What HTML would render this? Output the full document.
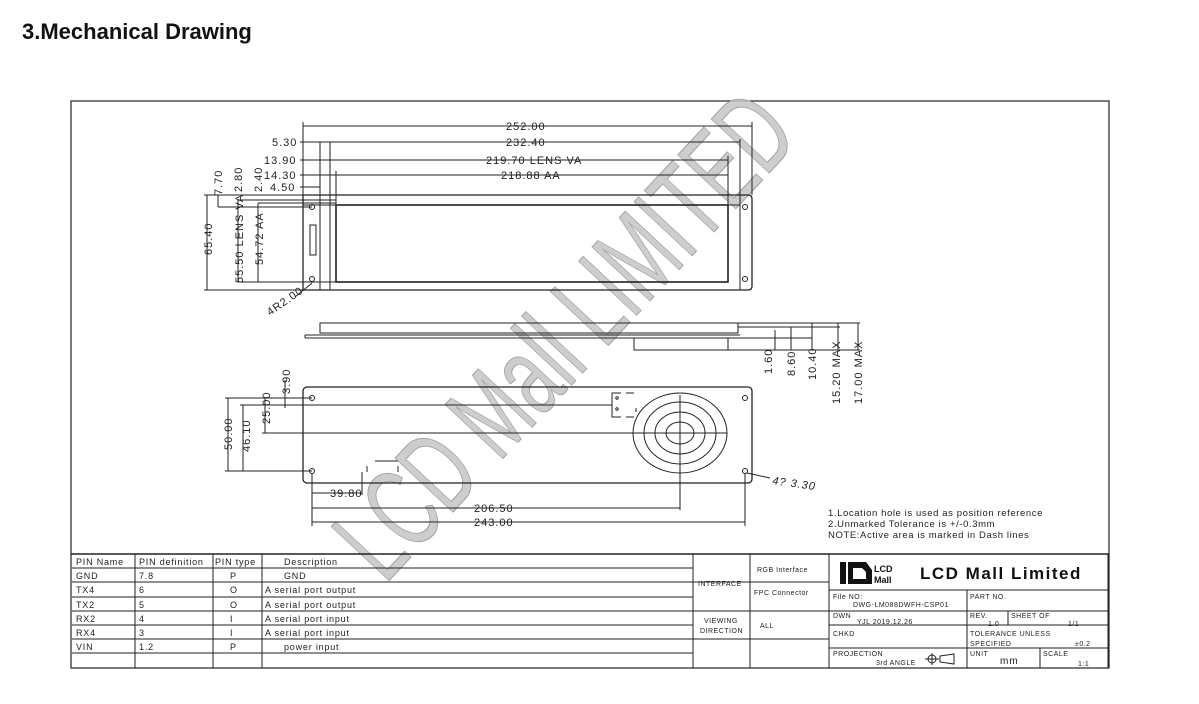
<!DOCTYPE html>
<html><head><meta charset="utf-8"><style>
html,body{margin:0;padding:0;background:#fff;}
svg{display:block;}
text{font-family:"Liberation Sans",sans-serif;}
</style></head><body>
<svg width="1199" height="704" viewBox="0 0 1199 704" xmlns="http://www.w3.org/2000/svg">
<rect width="1199" height="704" fill="#fff"/>
<text x="22" y="39" font-size="22" font-weight="bold" fill="#111">3.Mechanical Drawing</text>

<rect x="71" y="101" width="1038" height="567" fill="none" stroke="#222" stroke-width="1.2"/>

<!-- watermark -->
<text transform="translate(385,585) rotate(-47)" font-size="115" font-family="Liberation Sans Narrow, Liberation Sans, sans-serif" fill="#c4c4c4" fill-opacity="0.85" stroke="#a0a0a0" stroke-width="1" textLength="610" lengthAdjust="spacingAndGlyphs">LCD Mall LIMITED</text>

<g stroke="#222" fill="none" stroke-width="1">
<path d="M303 195 H748 Q752 195 752 199 V286 Q752 290 748 290 H303 Z" stroke-width="1.3"/>
<line x1="303" y1="205" x2="740" y2="205"/>
<line x1="740" y1="195" x2="740" y2="290"/>
<line x1="320" y1="195" x2="320" y2="290"/>
<line x1="330" y1="142" x2="330" y2="290"/>
<rect x="336" y="205" width="392" height="77" stroke-width="1.6"/>
<rect x="310" y="225" width="6" height="30"/>
<circle cx="312" cy="207" r="2.5"/><circle cx="312" cy="279" r="2.5"/>
<circle cx="745" cy="207" r="2.5"/><circle cx="745" cy="279" r="2.5"/>
<line x1="303" y1="126" x2="752" y2="126"/>
<line x1="303" y1="122" x2="303" y2="195"/><line x1="752" y1="122" x2="752" y2="195"/>
<line x1="300" y1="142" x2="740" y2="142"/><line x1="740" y1="139" x2="740" y2="195"/>
<line x1="300" y1="160" x2="728" y2="160"/><line x1="728" y1="156" x2="728" y2="205"/>
<line x1="300" y1="175" x2="728" y2="175"/>
<line x1="336" y1="171" x2="336" y2="205"/>
<line x1="300" y1="187" x2="320" y2="187"/>
<line x1="320" y1="142" x2="320" y2="195"/>
<line x1="207" y1="195" x2="207" y2="290"/>
<line x1="204" y1="195" x2="303" y2="195"/><line x1="204" y1="290" x2="303" y2="290"/>
<line x1="218" y1="195" x2="218" y2="207"/><line x1="218" y1="207" x2="312" y2="207"/>
<line x1="238" y1="200" x2="238" y2="282"/><line x1="238" y1="200" x2="336" y2="200"/>
<line x1="238" y1="282" x2="336" y2="282"/>
<line x1="258" y1="203" x2="258" y2="282"/><line x1="258" y1="203" x2="336" y2="203"/>
<line x1="295" y1="297" x2="312" y2="283"/>

<rect x="320" y="323" width="418" height="10"/>
<line x1="305" y1="335" x2="740" y2="335"/><line x1="305" y1="338" x2="740" y2="338"/>
<line x1="305" y1="335" x2="305" y2="338"/>
<rect x="634" y="338" width="94" height="12"/>
<line x1="738" y1="323" x2="860" y2="323"/>
<line x1="738" y1="327" x2="840" y2="327"/>
<line x1="728" y1="338" x2="812" y2="338"/>
<line x1="728" y1="350" x2="860" y2="350"/>
<line x1="775" y1="330" x2="775" y2="350"/>
<line x1="791" y1="327" x2="791" y2="350"/>
<line x1="812" y1="323" x2="812" y2="350"/>
<line x1="838" y1="323" x2="838" y2="350"/>
<line x1="858" y1="323" x2="858" y2="350"/>

<rect x="303" y="387" width="449" height="96" rx="4" stroke-width="1.3"/>
<circle cx="312" cy="398" r="2.5"/><circle cx="312" cy="471" r="2.5"/>
<circle cx="745" cy="398" r="2.5"/><circle cx="745" cy="471" r="2.5"/>
<path d="M621 393 H612 V417 H621 M626 393 H634 M626 417 H634 M636 408 V412"/>
<circle cx="617" cy="398" r="1.2"/><circle cx="617" cy="409" r="1.2"/>
<path d="M367 466 V472 M398 466 V472 M375 461 H398"/>
<ellipse cx="680" cy="433" rx="47" ry="40"/>
<path d="M680 395 V471 M633 433 H727"/>
<ellipse cx="680" cy="433" rx="36" ry="31"/>
<ellipse cx="680" cy="433" rx="25" ry="21"/>
<ellipse cx="680" cy="433" rx="14" ry="11"/>
<line x1="225" y1="398" x2="312" y2="398"/><line x1="225" y1="471" x2="312" y2="471"/>
<line x1="228" y1="398" x2="228" y2="471"/>
<line x1="243" y1="405" x2="243" y2="471"/><line x1="240" y1="405" x2="612" y2="405"/>
<line x1="265" y1="398" x2="265" y2="433"/><line x1="262" y1="433" x2="633" y2="433"/>
<line x1="285" y1="380" x2="285" y2="408"/>
<line x1="312" y1="474" x2="312" y2="526"/>
<line x1="362" y1="472" x2="362" y2="495"/>
<line x1="680" y1="471" x2="680" y2="510"/>
<line x1="745" y1="474" x2="745" y2="526"/>
<line x1="312" y1="493" x2="362" y2="493"/>
<line x1="312" y1="508" x2="680" y2="508"/>
<line x1="312" y1="522" x2="745" y2="522"/>
<line x1="747" y1="473" x2="770" y2="478"/>
</g>

<g font-size="11" fill="#222" letter-spacing="1">
<text x="506" y="130">252.00</text>
<text x="506" y="146">232.40</text>
<text x="272" y="146">5.30</text>
<text x="486" y="164">219.70 LENS VA</text>
<text x="501" y="179">218.88 AA</text>
<text x="264" y="164">13.90</text>
<text x="264" y="179">14.30</text>
<text x="270" y="191">4.50</text>
<text transform="translate(212,255) rotate(-90)">65.40</text>
<text transform="translate(222,195) rotate(-90)">7.70</text>
<text transform="translate(242,192) rotate(-90)">2.80</text>
<text transform="translate(262,192) rotate(-90)">2.40</text>
<text transform="translate(243,283) rotate(-90)">55.50 LENS VA</text>
<text transform="translate(263,265) rotate(-90)">54.72 AA</text>
<text transform="translate(270,316) rotate(-35)">4R2.00</text>
<text transform="translate(772,374) rotate(-90)">1.60</text>
<text transform="translate(795,376) rotate(-90)">8.60</text>
<text transform="translate(816,380) rotate(-90)">10.40</text>
<text transform="translate(840,404) rotate(-90)">15.20 MAX</text>
<text transform="translate(862,404) rotate(-90)">17.00 MAX</text>
<text transform="translate(290,394) rotate(-90)">3.90</text>
<text transform="translate(232,450) rotate(-90)">50.00</text>
<text transform="translate(250,452) rotate(-90)">46.10</text>
<text transform="translate(270,424) rotate(-90)">25.00</text>
<text x="330" y="497">39.80</text>
<text x="474" y="512">206.50</text>
<text x="474" y="526">243.00</text>
<text x="772" y="484" font-style="italic" transform="rotate(8 772 484)">4? 3.30</text>
</g>
<g font-size="9.5" fill="#222" letter-spacing="0.6">
<text x="828" y="516">1.Location hole is used as position reference</text>
<text x="828" y="527">2.Unmarked Tolerance is +/-0.3mm</text>
<text x="828" y="538">NOTE:Active area is marked in Dash lines</text>
</g>

<g stroke="#222" stroke-width="1" fill="none">
<line x1="71" y1="554" x2="1109" y2="554" stroke-width="1.4"/>
<line x1="72" y1="568" x2="693" y2="568"/>
<line x1="72" y1="582" x2="693" y2="582"/>
<line x1="72" y1="597" x2="693" y2="597"/>
<line x1="72" y1="611" x2="693" y2="611"/>
<line x1="72" y1="625" x2="693" y2="625"/>
<line x1="72" y1="639" x2="693" y2="639"/>
<line x1="72" y1="653" x2="693" y2="653"/>
<line x1="135" y1="554" x2="135" y2="668"/>
<line x1="213" y1="554" x2="213" y2="668"/>
<line x1="262" y1="554" x2="262" y2="668"/>
<line x1="693" y1="554" x2="693" y2="668"/>
<line x1="750" y1="554" x2="750" y2="668"/>
<line x1="829" y1="554" x2="829" y2="668"/>
<line x1="693" y1="582" x2="829" y2="582"/>
<line x1="693" y1="611" x2="829" y2="611"/>
<line x1="693" y1="639" x2="829" y2="639"/>
<line x1="829" y1="590" x2="1108" y2="590"/>
<line x1="829" y1="611" x2="1108" y2="611"/>
<line x1="829" y1="625" x2="1108" y2="625"/>
<line x1="829" y1="648" x2="1108" y2="648"/>
<line x1="967" y1="590" x2="967" y2="668"/>
<line x1="1008" y1="611" x2="1008" y2="625"/>
<line x1="1040" y1="648" x2="1040" y2="668"/>
<line x1="1108" y1="554" x2="1108" y2="668"/>
</g>
<g font-size="9" fill="#222" letter-spacing="0.8">
<text x="76" y="565">PIN Name</text><text x="139" y="565">PIN definition</text><text x="215" y="565">PIN type</text><text x="284" y="565">Description</text>
<text x="76" y="579">GND</text><text x="139" y="579">7.8</text><text x="230" y="579">P</text><text x="284" y="579">GND</text>
<text x="76" y="593">TX4</text><text x="139" y="593">6</text><text x="230" y="593">O</text><text x="265" y="593">A serial port output</text>
<text x="76" y="608">TX2</text><text x="139" y="608">5</text><text x="230" y="608">O</text><text x="265" y="608">A serial port output</text>
<text x="76" y="622">RX2</text><text x="139" y="622">4</text><text x="230" y="622">I</text><text x="265" y="622">A serial port input</text>
<text x="76" y="636">RX4</text><text x="139" y="636">3</text><text x="230" y="636">I</text><text x="265" y="636">A serial port input</text>
<text x="76" y="650">VIN</text><text x="139" y="650">1.2</text><text x="230" y="650">P</text><text x="284" y="650">power input</text>
</g>
<g font-size="7" fill="#222" letter-spacing="0.5">
<text x="698" y="586">INTERFACE</text>
<text x="757" y="572">RGB Interface</text>
<text x="754" y="595">FPC Connector</text>
<text x="704" y="623">VIEWING</text><text x="700" y="633">DIRECTION</text>
<text x="760" y="628">ALL</text>
<text x="833" y="599">File NO:</text><text x="853" y="607">DWG-LM088DWFH-CSP01</text>
<text x="970" y="599">PART NO.</text>
<text x="833" y="618">DWN</text><text x="857" y="624">YJL 2019.12.26</text>
<text x="970" y="618">REV.</text><text x="988" y="626">1.0</text>
<text x="1011" y="618">SHEET OF</text><text x="1068" y="626">1/1</text>
<text x="833" y="636">CHKD</text>
<text x="970" y="636">TOLERANCE UNLESS</text><text x="970" y="646">SPECIFIED</text><text x="1075" y="646">±0.2</text>
<text x="833" y="656">PROJECTION</text><text x="876" y="665">3rd ANGLE</text>
<text x="970" y="656">UNIT</text><text x="1043" y="656">SCALE</text><text x="1078" y="666">1:1</text>
</g>
<text x="1000" y="664" font-size="10" fill="#222" letter-spacing="1">mm</text>
<g stroke="#222" fill="none"><circle cx="932" cy="659" r="4"/><line x1="925" y1="659" x2="939" y2="659"/><line x1="932" y1="653" x2="932" y2="665"/><path d="M940 656 L954 654 V664 L940 662 Z"/></g>
<g fill="#111"><rect x="840" y="562" width="6" height="22"/><path d="M848 562 H866 L872 570 V584 H848 Z M853 568 V579 H866 V572 L862 568 Z"/></g>
<text x="874" y="572" font-size="9" font-weight="bold" fill="#111">LCD</text>
<text x="874" y="583" font-size="9" font-weight="bold" fill="#111">Mall</text>
<text x="920" y="579" font-size="17" font-weight="bold" fill="#111" letter-spacing="1.5">LCD Mall Limited</text>
</svg>
</body></html>
